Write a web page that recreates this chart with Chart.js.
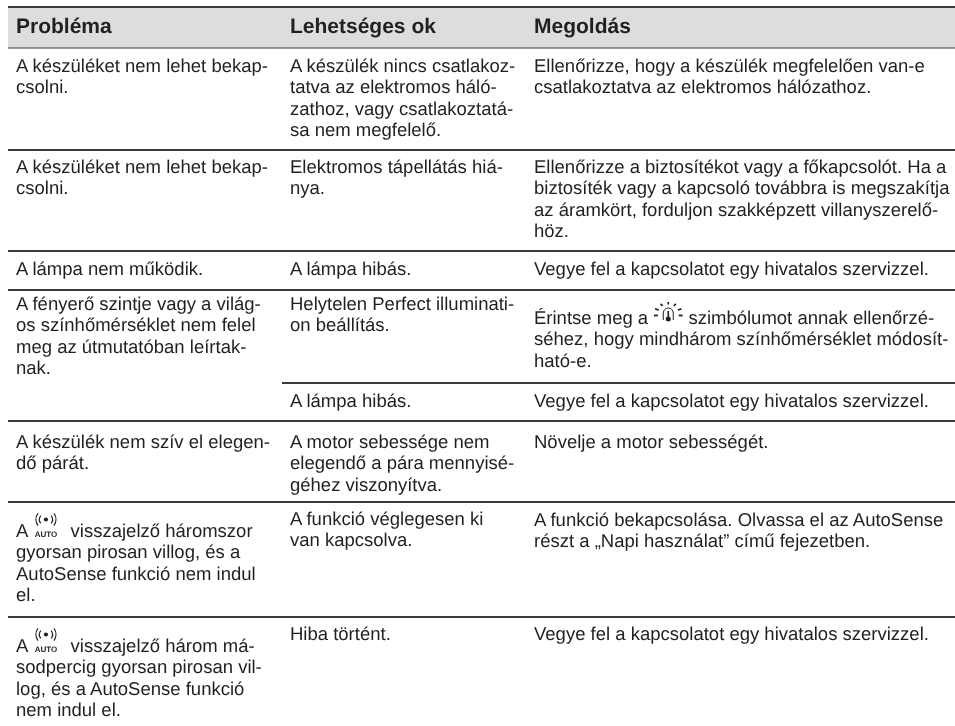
<!DOCTYPE html>
<html lang="hu">
<head>
<meta charset="utf-8">
<title>Hibaelhárítás</title>
<script src="https://cdn.jsdelivr.net/npm/chart.js@4"></script>
<style>
    html, body { margin: 0; padding: 0; background: #fff; }
    canvas { display: block; }
</style>
</head>
<body>
<canvas id="tableChart" width="955" height="726"></canvas>
<script>
const headers = ['Probléma', 'Lehetséges ok', 'Megoldás'];

const problems = [
    ['A készüléket nem lehet bekap-', 'csolni.'],
    ['A készüléket nem lehet bekap-', 'csolni.'],
    ['A lámpa nem működik.'],
    ['A fényerő szintje vagy a világ-', 'os színhőmérséklet nem felel', 'meg az útmutatóban leírtak-', 'nak.'],
    ['A készülék nem szív el elegen-', 'dő párát.'],
    ['A {auto} visszajelző háromszor', 'gyorsan pirosan villog, és a', 'AutoSense funkció nem indul', 'el.'],
    ['A {auto} visszajelző három má-', 'sodpercig gyorsan pirosan vil-', 'log, és a AutoSense funkció', 'nem indul el.']
];

const causes = [
    ['A készülék nincs csatlakoz-', 'tatva az elektromos háló-', 'zathoz, vagy csatlakoztatá-', 'sa nem megfelelő.'],
    ['Elektromos tápellátás hiá-', 'nya.'],
    ['A lámpa hibás.'],
    ['Helytelen Perfect illuminati-', 'on beállítás.'],
    ['A lámpa hibás.'],
    ['A motor sebessége nem', 'elegendő a pára mennyisé-', 'géhez viszonyítva.'],
    ['A funkció véglegesen ki', 'van kapcsolva.'],
    ['Hiba történt.']
];

const solutions = [
    ['Ellenőrizze, hogy a készülék megfelelően van-e', 'csatlakoztatva az elektromos hálózathoz.'],
    ['Ellenőrizze a biztosítékot vagy a főkapcsolót. Ha a', 'biztosíték vagy a kapcsoló továbbra is megszakítja', 'az áramkört, forduljon szakképzett villanyszerelő-', 'höz.'],
    ['Vegye fel a kapcsolatot egy hivatalos szervizzel.'],
    ['Érintse meg a {therm} szimbólumot annak ellenőrzé-', 'séhez, hogy mindhárom színhőmérséklet módosít-', 'ható-e.'],
    ['Vegye fel a kapcsolatot egy hivatalos szervizzel.'],
    ['Növelje a motor sebességét.'],
    ['A funkció bekapcsolása. Olvassa el az AutoSense', 'részt a „Napi használat” című fejezetben.'],
    ['Vegye fel a kapcsolatot egy hivatalos szervizzel.']
];

// layout, kept apart from the texts
const ruleRows = [7, 47.5, 150, 251, 290, 421, 502, 617];
const subRuleRow = 383;
const tableLeft = 8, tableRight = 955, causeLeft = 282;
const columnX = [16, 290, 534];
const headerBaseline = 33;
const problemBaselines = [72, 173, 275, 310, 448, 537, 652];
const causeBaselines = [72, 173, 275, 310, 407, 448, 525, 640];
const solutionBaselines = [72, 173, 275, 324, 407, 448, 526, 640];
const lineStep = 21.3;
const textColor = '#231f20';
const bodyFont = '18.5px "Liberation Sans"';
const headFont = 'bold 21px "Liberation Sans"';
const iconWidth = { auto: 33, therm: 30 };

function drawAutoIcon(ctx, x, baseline) {
    const cx = x + 13.5, cy = baseline - 17.5;
    ctx.save();
    ctx.strokeStyle = textColor;
    ctx.fillStyle = textColor;
    ctx.lineWidth = 1.2;
    ctx.beginPath();
    ctx.arc(cx, cy, 2.1, 0, Math.PI * 2);
    ctx.fill();
    [6.5, 10].forEach(r => {
        ctx.beginPath();
        ctx.arc(cx, cy, r, -0.65, 0.65);
        ctx.stroke();
        ctx.beginPath();
        ctx.arc(cx, cy, r, Math.PI - 0.65, Math.PI + 0.65);
        ctx.stroke();
    });
    ctx.font = 'bold 8px "Liberation Sans"';
    ctx.textAlign = 'center';
    ctx.fillText('AUTO', cx, baseline);
    ctx.restore();
}

function drawThermIcon(ctx, x, baseline) {
    const cx = x + 15, cy = baseline - 10;
    ctx.save();
    ctx.strokeStyle = textColor;
    ctx.fillStyle = textColor;
    // rays
    ctx.lineWidth = 1.7;
    [-90, -122, -58, -155, -25, 172, 8].forEach(a => {
        const r = a * Math.PI / 180;
        ctx.beginPath();
        ctx.moveTo(cx + Math.cos(r) * 10.5, cy + Math.sin(r) * 9.5);
        ctx.lineTo(cx + Math.cos(r) * 14.5, cy + Math.sin(r) * 12);
        ctx.stroke();
    });
    // lamp outline
    ctx.lineWidth = 1;
    ctx.beginPath();
    ctx.moveTo(cx - 5, cy + 6);
    ctx.lineTo(cx - 5, cy - 1);
    ctx.arc(cx, cy - 1, 5, Math.PI, 0);
    ctx.lineTo(cx + 5, cy + 6);
    ctx.stroke();
    // thermometer
    ctx.lineWidth = 1.6;
    ctx.beginPath();
    ctx.moveTo(cx, cy - 3);
    ctx.lineTo(cx, cy + 4);
    ctx.stroke();
    ctx.beginPath();
    ctx.arc(cx, cy + 5, 2.5, 0, Math.PI * 2);
    ctx.fill();
    ctx.restore();
}

function drawLine(ctx, text, x, baseline) {
    const parts = text.split(/(\{auto\}|\{therm\})/);
    parts.forEach(part => {
        if (part === '{auto}') {
            drawAutoIcon(ctx, x, baseline);
            x += iconWidth.auto;
        } else if (part === '{therm}') {
            drawThermIcon(ctx, x, baseline);
            x += iconWidth.therm;
        } else if (part) {
            ctx.fillText(part, x, baseline);
            x += ctx.measureText(part).width;
        }
    });
}

const tableTextPlugin = {
    id: 'tableText',
    afterDatasetsDraw(chart) {
        const { ctx, scales } = chart;
        const px = v => scales.x.getPixelForValue(v);
        const py = v => scales.y.getPixelForValue(v);
        ctx.save();
        ctx.textRendering = 'geometricPrecision';
        ctx.fillStyle = textColor;
        ctx.textAlign = 'left';
        ctx.textBaseline = 'alphabetic';
        ctx.font = headFont;
        headers.forEach((h, i) => ctx.fillText(h, px(columnX[i]), py(headerBaseline)));
        ctx.font = bodyFont;
        [[problems, problemBaselines], [causes, causeBaselines], [solutions, solutionBaselines]].forEach(([cells, baselines], col) => {
            cells.forEach((lines, row) => {
                lines.forEach((line, n) => {
                    drawLine(ctx, line, px(columnX[col]), py(baselines[row] + n * lineStep));
                });
            });
        });
        ctx.restore();
    }
};

function ruleDataset(y, fromX) {
    return {
        data: [{ x: fromX, y: y }, { x: tableRight, y: y }],
        borderColor: '#3b3a3a',
        borderWidth: 2,
        pointRadius: 0,
        fill: false
    };
}

const datasets = ruleRows.map(y => ruleDataset(y, tableLeft));
datasets.push(ruleDataset(subRuleRow, causeLeft));
// header band is the area between the first two rules
datasets[0].fill = 1;
datasets[0].backgroundColor = '#dcddde';

new Chart(document.getElementById('tableChart').getContext('2d'), {
    type: 'line',
    data: { datasets: datasets },
    options: {
        responsive: false,
        animation: false,
        layout: { padding: 0 },
        plugins: { legend: { display: false }, tooltip: { enabled: false } },
        scales: {
            x: { type: 'linear', min: 0, max: 955, display: false },
            y: { type: 'linear', min: 0, max: 726, reverse: true, display: false }
        }
    },
    plugins: [tableTextPlugin]
});
</script>
</body>
</html>
